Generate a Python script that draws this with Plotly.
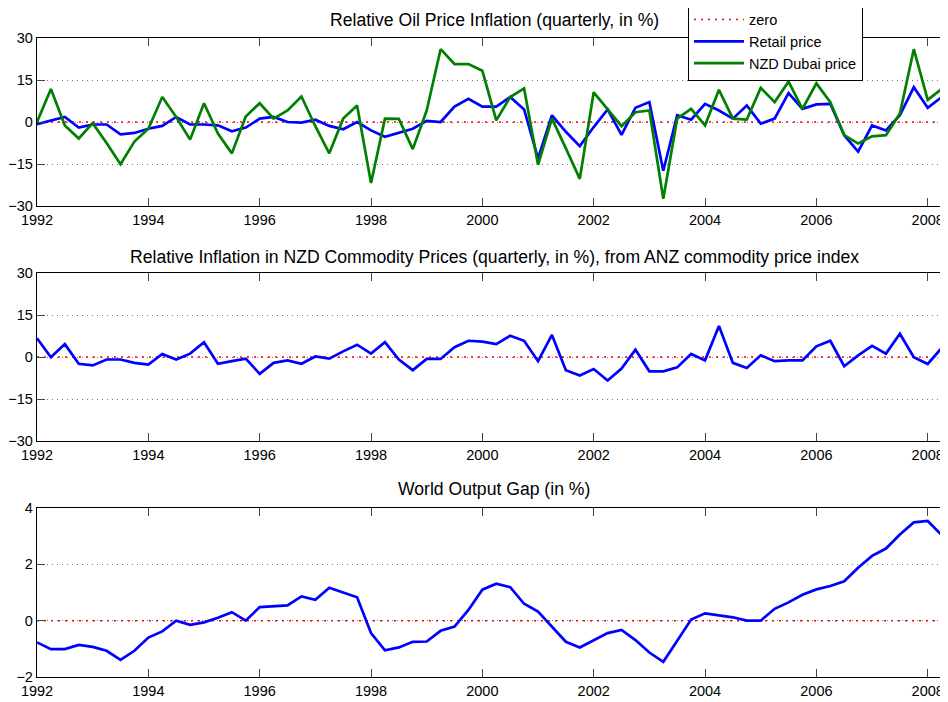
import plotly.graph_objects as go

# ---------------- data (quarterly, 1992Q1 .. 2008Q3) ----------------
start_year = 1992
n_quarters = 67
quarters = [start_year + q / 4 for q in range(n_quarters)]

retail_price = [
    -0.8, 0.6, 1.8, -2.0,
    -0.9, -0.9, -4.4, -3.9,
    -2.4, -1.4, 1.8, -0.9,
    -0.9, -1.2, -3.3, -2.0,
    1.2, 1.8, 0.0, -0.2,
    0.8, -1.4, -2.6, 0.0,
    -3.0, -5.3, -3.9, -2.4,
    0.4, 0.0, 5.5, 8.3,
    5.5, 5.5, 8.9, 4.5,
    -13.0, 2.4, -3.5, -8.6,
    -1.8, 4.5, -4.6, 5.1,
    7.1, -17.4, 2.4, 0.8,
    6.5, 4.1, 1.2, 5.9,
    -0.6, 1.2, 10.3, 4.7,
    6.3, 6.5, -4.7, -10.6,
    -1.2, -3.0, 2.4, 12.4,
    5.1, 8.9, 6.1,
]

nzd_dubai_price = [
    0.0, 11.8, -1.2, -5.9,
    -0.4, -7.5, -15.1, -7.0,
    -2.4, 8.9, 1.8, -6.3,
    6.7, -4.1, -11.2, 2.0,
    6.7, 1.2, 4.1, 9.1,
    -1.5, -11.2, 1.2, 5.9,
    -21.8, 1.2, 1.1, -9.7,
    4.1, 26.0, 20.7, 20.7,
    18.3, 0.6, 8.9, 12.0,
    -15.3, 1.2, -9.4, -20.3,
    10.6, 4.7, -1.5, 3.5,
    4.1, -27.4, 1.2, 4.7,
    -1.2, 11.5, 1.2, 0.9,
    12.2, 7.1, 14.4, 4.7,
    13.8, 7.1, -4.7, -7.7,
    -5.1, -4.7, 3.0, 26.0,
    7.9, 11.8, 7.3,
]

commodity_prices = [
    6.7, -0.1, 4.6, -2.4,
    -3.0, -0.9, -0.9, -2.1,
    -2.7, 1.1, -0.9, 1.2,
    5.3, -2.4, -1.5, -0.6,
    -6.0, -2.1, -1.2, -2.4,
    0.2, -0.6, 2.0, 4.4,
    1.2, 5.3, -0.9, -4.7,
    -0.7, -0.7, 3.5, 5.8,
    5.5, 4.6, 7.6, 5.8,
    -1.5, 7.9, -4.7, -6.6,
    -4.3, -8.4, -4.1, 2.6,
    -5.1, -5.1, -3.7, 1.1,
    -1.2, 11.1, -2.1, -3.9,
    0.6, -1.5, -1.2, -1.2,
    3.8, 5.8, -3.3, 0.6,
    4.0, 1.2, 8.3, -0.1,
    -2.5, 3.2, 5.2,
]

world_output_gap = [
    -0.77, -1.01, -1.01, -0.86,
    -0.93, -1.07, -1.39, -1.07,
    -0.60, -0.38, 0.00, -0.15,
    -0.06, 0.10, 0.30, 0.00,
    0.48, 0.51, 0.54, 0.86,
    0.74, 1.17, 0.99, 0.83,
    -0.44, -1.05, -0.95, -0.75,
    -0.74, -0.36, -0.21, 0.38,
    1.10, 1.31, 1.19, 0.60,
    0.32, -0.21, -0.75, -0.95,
    -0.69, -0.44, -0.33, -0.69,
    -1.13, -1.46, -0.71, 0.04,
    0.26, 0.18, 0.12, 0.00,
    0.00, 0.42, 0.65, 0.92,
    1.11, 1.23, 1.40, 1.88,
    2.30, 2.56, 3.06, 3.49,
    3.54, 3.04, 2.43,
]

zero = [0] * n_quarters

x_ticks = [1992, 1994, 1996, 1998, 2000, 2002, 2004, 2006, 2008]
y_ticks_pct = [-30, -15, 0, 15, 30]
y_ticks_gap = [-2, 0, 2, 4]

titles = [
    "Relative Oil Price Inflation (quarterly, in %)",
    "Relative Inflation in NZD Commodity Prices (quarterly, in %), from ANZ commodity price index",
    "World Output Gap (in %)",
]

# ---------------- figure ----------------
OFF = 8                      # page body margin
W, H = 948 - OFF, 702 - OFF  # figure size so it ends at the window edge
L = 37 - OFF                 # left margin (axis at screen x=37)
FONT = "Liberation Sans, Arial, Helvetica, sans-serif"
BLUE = "#0000FF"
GREEN = "#008000"
RED = "#FF0000"
LW = 2.7
ZERO_DASH = "2px,5px"
TICK_FS = 14.5
TITLE_FS = 17.6

fig = go.Figure()

# panel 1
fig.add_trace(go.Scatter(x=quarters, y=zero, mode="lines", name="zero",
                         line=dict(color=RED, width=1.5, dash=ZERO_DASH),
                         xaxis="x", yaxis="y"))
fig.add_trace(go.Scatter(x=quarters, y=retail_price, mode="lines", name="Retail price",
                         line=dict(color=BLUE, width=LW), xaxis="x", yaxis="y"))
fig.add_trace(go.Scatter(x=quarters, y=nzd_dubai_price, mode="lines", name="NZD Dubai price",
                         line=dict(color=GREEN, width=LW), xaxis="x", yaxis="y"))
# panel 2
fig.add_trace(go.Scatter(x=quarters, y=zero, mode="lines", showlegend=False,
                         line=dict(color=RED, width=1.5, dash=ZERO_DASH),
                         xaxis="x2", yaxis="y2"))
fig.add_trace(go.Scatter(x=quarters, y=commodity_prices, mode="lines", showlegend=False,
                         line=dict(color=BLUE, width=LW), xaxis="x2", yaxis="y2"))
# panel 3
fig.add_trace(go.Scatter(x=quarters, y=zero, mode="lines", showlegend=False,
                         line=dict(color=RED, width=1.5, dash=ZERO_DASH),
                         xaxis="x3", yaxis="y3"))
fig.add_trace(go.Scatter(x=quarters, y=world_output_gap, mode="lines", showlegend=False,
                         line=dict(color=BLUE, width=LW), xaxis="x3", yaxis="y3"))

# screen-pixel geometry of the three axes boxes (top, bottom)
boxes = [(38, 206), (273, 441), (508, 677)]
x_end = 1992 + (948 - 37) / 55.67
PW = W - L  # plot area width


def py(screen_y):
    """screen y pixel -> paper y fraction"""
    return 1 - (screen_y - OFF) / H


def px(screen_x):
    """screen x pixel -> paper x fraction"""
    return (screen_x - OFF - L) / PW


def xaxis_style(anchor):
    return dict(
        domain=[0, 1], range=[1992, x_end], anchor=anchor, automargin=False,
        tickmode="array", tickvals=x_ticks, ticks="inside", ticklen=8,
        tickwidth=1, tickcolor="#444", showline=True, linecolor="black",
        linewidth=1.3, mirror="ticks", showgrid=False, zeroline=False,
        tickfont=dict(family=FONT, size=TICK_FS, color="black"),
    )


def yaxis_style(anchor, box, rng, ticks):
    return dict(
        domain=[py(box[1]), py(box[0])], range=rng, anchor=anchor,
        automargin=False,
        tickmode="array", tickvals=ticks, ticks="inside", ticklen=8,
        tickwidth=1, tickcolor="#444", showline=True, linecolor="black",
        linewidth=1.3, mirror=False, showgrid=True, gridcolor="#777",
        gridwidth=1, griddash="1px,4px", zeroline=False,
        tickfont=dict(family=FONT, size=TICK_FS, color="black"),
    )


title_y_px = [20, 257, 489]
annotations = []
for t, ypx in zip(titles, title_y_px):
    annotations.append(dict(
        text=t, xref="paper", yref="paper", x=px(494), y=py(ypx),
        xanchor="center", yanchor="middle", showarrow=False,
        font=dict(family=FONT, size=TITLE_FS, color="black"),
    ))

fig.update_layout(
    width=W, height=H,
    margin=dict(l=L, r=0, t=0, b=0, pad=0, autoexpand=False),
    paper_bgcolor="white", plot_bgcolor="white",
    font=dict(family=FONT, size=TICK_FS, color="black"),
    xaxis=xaxis_style("y"),
    xaxis2=xaxis_style("y2"),
    xaxis3=xaxis_style("y3"),
    yaxis=yaxis_style("x", boxes[0], [-30, 30], y_ticks_pct),
    yaxis2=yaxis_style("x2", boxes[1], [-30, 30], y_ticks_pct),
    yaxis3=yaxis_style("x3", boxes[2], [-2, 4], y_ticks_gap),
    annotations=annotations,
    legend=dict(
        x=px(688), y=py(2.5), xanchor="left", yanchor="top",
        bgcolor="white", bordercolor="black", borderwidth=1,
        font=dict(family=FONT, size=14.5, color="black"),
        itemwidth=50, tracegroupgap=0,
    ),
    showlegend=True,
)

fig.write_html("out.html")
